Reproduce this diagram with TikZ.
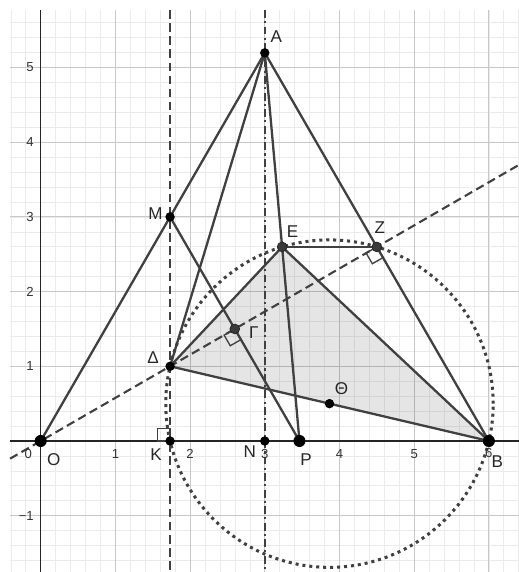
\documentclass[tikz,border=0pt]{standalone}
\usepackage{fontspec}
\setmainfont{Liberation Sans}
\usetikzlibrary{calc}
\definecolor{lc}{HTML}{404040}
\definecolor{axc}{HTML}{252525}
\definecolor{gmaj}{HTML}{C8C8C8}
\definecolor{gmin}{HTML}{EBEBEB}
\definecolor{ptg}{HTML}{3A3A3A}
\begin{document}
\begin{tikzpicture}[x=2cm,y=2cm,
  seg/.style={draw=lc, line width=1.75pt},
  dashln/.style={draw=lc, line width=1.6pt, dash pattern=on 6.5pt off 3.5pt},
  dashdotln/.style={draw=lc, line width=1.3pt, dash pattern=on 6pt off 2.5pt on 1.6pt off 2.5pt},
  dotln/.style={draw=lc, line width=2.3pt, dash pattern=on 2.3pt off 3pt},
  rangle/.style={draw=lc, line width=1pt},
  bigpt/.style={circle, fill=black, inner sep=0pt, minimum size=9.2pt},
  pt/.style={circle, fill=black, inner sep=0pt, minimum size=7.2pt},
  gpt/.style={circle, fill=ptg, draw=black!85, line width=0.6pt, inner sep=0pt, minimum size=7.4pt},
  lbl/.style={inner sep=0pt, text=black!85, font=\fontsize{13}{14}\selectfont},
  num/.style={inner sep=0pt, text=black!80, font=\fontsize{10}{12}\selectfont}]
\useasboundingbox (-0.545,-1.754) rectangle (6.403,5.904);
% grid
\draw[gmin, line width=0.5pt, step=0.2] (-0.41,-1.754) grid (6.403,5.77);
\draw[gmaj, line width=0.7pt, step=1] (-0.41,-1.754) grid (6.403,5.77);
% coordinates
\coordinate (O) at (0,0);
\coordinate (B) at (6,0);
\coordinate (A) at (3,5.196152);
\coordinate (K) at (1.732051,0);
\coordinate (N) at (3,0);
\coordinate (P) at (3.464102,0);
\coordinate (M) at (1.732051,3);
\coordinate (D) at (1.732051,1);
\coordinate (G) at (2.598076,1.5);
\coordinate (E) at (3.232051,2.598076);
\coordinate (Z) at (4.5,2.598076);
\coordinate (T) at (3.866025,0.5);
\coordinate (xl) at (-0.41,0);
\coordinate (xr) at (6.403,0);
\coordinate (yt) at (0,5.77);
\coordinate (yb) at (0,-1.754);
\coordinate (d1) at (-0.41,-0.236714);
\coordinate (d2) at (6.403,3.696774);
\coordinate (v1t) at (1.732051,5.77);
\coordinate (v1b) at (1.732051,-1.754);
\coordinate (v2t) at (3,5.77);
\coordinate (v2b) at (3,-1.754);
% shaded triangle
\fill[black, fill opacity=0.1] (D) -- (E) -- (B) -- cycle;
% axes
\draw[axc, line width=1.1pt] (xl) -- (xr);
\draw[axc, line width=1.1pt] (yt) -- (yb);
% auxiliary lines
\draw[dashln] (d1) -- (d2);
\draw[dashln] (v1t) -- (v1b);
\draw[dashdotln] (v2t) -- (v2b);
\draw[dotln] (T) circle (2.19177);
% segments
\draw[seg, draw=axc, line width=1.7pt] (O) -- (B);
\draw[seg] (O) -- (A) -- (B);
\draw[seg] (A) -- (D);
\draw[seg] (A) -- (P);
\draw[seg] (M) -- (P);
\draw[seg] (D) -- (E) -- (B) -- (D);
\draw[seg] (E) -- (Z);
% right angles
\draw[rangle] (K) rectangle ++(-0.17,0.17);
\draw[rangle] (Z) -- ++(0.0825,-0.1429) -- ++(-0.1429,-0.0825) -- ++(-0.0825,0.1429) -- cycle;
\draw[rangle] (G) -- ++(0.0825,-0.1429) -- ++(-0.1429,-0.0825) -- ++(-0.0825,0.1429) -- cycle;
% points
\node[bigpt] (pO) at (O) {};
\node[bigpt] (pB) at (B) {};
\node[bigpt] (pP) at (P) {};
\node[pt] (pA) at (A) {};
\node[pt] (pK) at (K) {};
\node[pt] (pN) at (N) {};
\node[pt] (pM) at (M) {};
\node[pt] (pD) at (D) {};
\node[pt] (pT) at (T) {};
\node[gpt] (pE) at (E) {};
\node[gpt] (pZ) at (Z) {};
\node[gpt] (pG) at (G) {};
% labels
\node[lbl] (lA) at ($(A)+(0.154,0.214)$) {A};
\node[lbl] (lM) at ($(M)+(-0.194,0.04)$) {M};
\node[lbl] (lD) at ($(D)+(-0.228,0.12)$) {Δ};
\node[lbl] (lE) at ($(E)+(0.141,0.207)$) {E};
\node[lbl] (lZ) at ($(Z)+(0.04,0.254)$) {Z};
\node[lbl] (lG) at ($(G)+(0.254,-0.047)$) {Γ};
\node[lbl] (lT) at ($(T)+(0.161,0.2)$) {Θ};
\node[lbl] (lO) at ($(O)+(0.174,-0.248)$) {O};
\node[lbl] (lK) at ($(K)+(-0.187,-0.181)$) {K};
\node[lbl] (lN) at ($(N)+(-0.2,-0.147)$) {N};
\node[lbl] (lP) at ($(P)+(0.087,-0.254)$) {P};
\node[lbl] (lB) at ($(B)+(0.114,-0.274)$) {B};
% axis numbers
\node[num] (x0) at (-0.166,-0.174) {0};
\node[num] (x1) at (1,-0.174) {1};
\node[num] (x2) at (2,-0.174) {2};
\node[num] (x3) at (3,-0.174) {3};
\node[num] (x4) at (4,-0.174) {4};
\node[num] (x5) at (5,-0.174) {5};
\node[num] (x6) at (6,-0.160) {6};
\node[num, anchor=east] (y5) at (-0.09,5) {5};
\node[num, anchor=east] (y4) at (-0.09,4) {4};
\node[num, anchor=east] (y3) at (-0.09,3) {3};
\node[num, anchor=east] (y2) at (-0.09,2) {2};
\node[num, anchor=east] (y1) at (-0.09,1) {1};
\node[num, anchor=east] (ym1) at (-0.09,-1) {−1};
\end{tikzpicture}
\end{document}
